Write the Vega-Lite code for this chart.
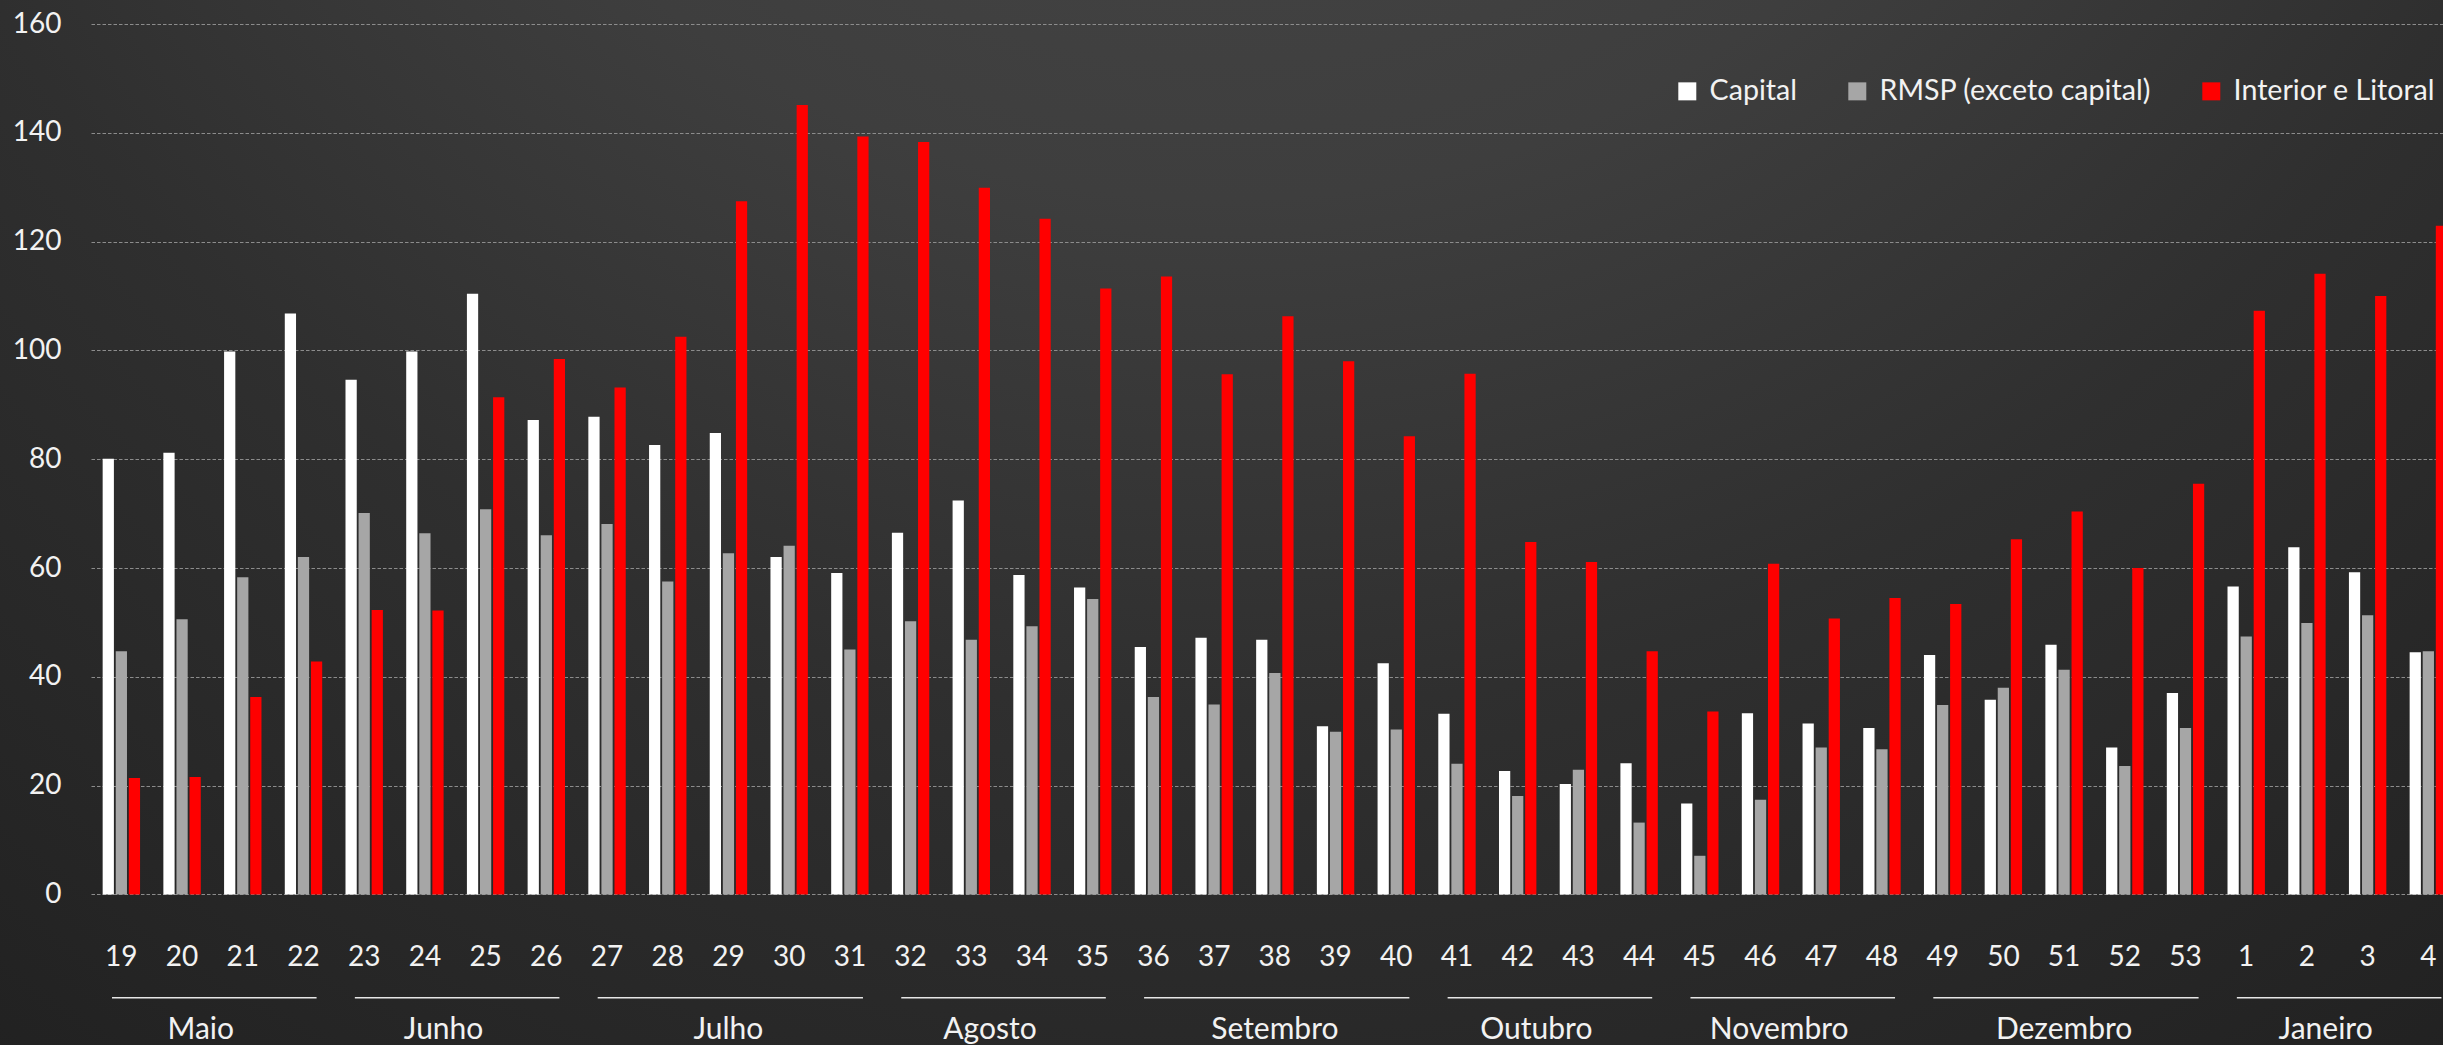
{
  "$schema": "https://vega.github.io/schema/vega-lite/v6.json",
  "width": 2443,
  "height": 1045,
  "autosize": {"type": "none"},
  "padding": 0,
  "background": "#262626",
  "view": {
    "stroke": null,
    "fill": {
      "gradient": "radial",
      "x1": 0.5, "y1": 0, "r1": 0,
      "x2": 0.5, "y2": 0, "r2": 1.05,
      "stops": [
        {"offset": 0, "color": "#4b4b4b"},
        {"offset": 0.35, "color": "#3e3e3e"},
        {"offset": 0.55, "color": "#2f2f2f"},
        {"offset": 0.8, "color": "#232323"},
        {"offset": 1, "color": "#1a1a1a"}
      ]
    }
  },
  "config": {
    "font": "Lato",
    "text": {"font": "Lato"}
  },
  "datasets": {
    "semanas": [
      {"semana": "19", "Capital": 80.1, "RMSP (exceto capital)": 44.7, "Interior e Litoral": 21.4},
      {"semana": "20", "Capital": 81.2, "RMSP (exceto capital)": 50.6, "Interior e Litoral": 21.6},
      {"semana": "21", "Capital": 99.8, "RMSP (exceto capital)": 58.3, "Interior e Litoral": 36.3},
      {"semana": "22", "Capital": 106.8, "RMSP (exceto capital)": 62.0, "Interior e Litoral": 42.8},
      {"semana": "23", "Capital": 94.6, "RMSP (exceto capital)": 70.1, "Interior e Litoral": 52.3},
      {"semana": "24", "Capital": 99.8, "RMSP (exceto capital)": 66.4, "Interior e Litoral": 52.2},
      {"semana": "25", "Capital": 110.4, "RMSP (exceto capital)": 70.8, "Interior e Litoral": 91.4},
      {"semana": "26", "Capital": 87.2, "RMSP (exceto capital)": 66.0, "Interior e Litoral": 98.4},
      {"semana": "27", "Capital": 87.8, "RMSP (exceto capital)": 68.1, "Interior e Litoral": 93.2},
      {"semana": "28", "Capital": 82.6, "RMSP (exceto capital)": 57.5, "Interior e Litoral": 102.5},
      {"semana": "29", "Capital": 84.8, "RMSP (exceto capital)": 62.7, "Interior e Litoral": 127.4},
      {"semana": "30", "Capital": 62.0, "RMSP (exceto capital)": 64.1, "Interior e Litoral": 145.1},
      {"semana": "31", "Capital": 59.1, "RMSP (exceto capital)": 45.0, "Interior e Litoral": 139.3},
      {"semana": "32", "Capital": 66.5, "RMSP (exceto capital)": 50.2, "Interior e Litoral": 138.3},
      {"semana": "33", "Capital": 72.4, "RMSP (exceto capital)": 46.8, "Interior e Litoral": 129.9},
      {"semana": "34", "Capital": 58.7, "RMSP (exceto capital)": 49.3, "Interior e Litoral": 124.2},
      {"semana": "35", "Capital": 56.4, "RMSP (exceto capital)": 54.3, "Interior e Litoral": 111.4},
      {"semana": "36", "Capital": 45.5, "RMSP (exceto capital)": 36.3, "Interior e Litoral": 113.6},
      {"semana": "37", "Capital": 47.2, "RMSP (exceto capital)": 34.9, "Interior e Litoral": 95.6},
      {"semana": "38", "Capital": 46.8, "RMSP (exceto capital)": 40.7, "Interior e Litoral": 106.3},
      {"semana": "39", "Capital": 30.9, "RMSP (exceto capital)": 29.9, "Interior e Litoral": 98.0},
      {"semana": "40", "Capital": 42.5, "RMSP (exceto capital)": 30.3, "Interior e Litoral": 84.2},
      {"semana": "41", "Capital": 33.2, "RMSP (exceto capital)": 24.0, "Interior e Litoral": 95.7},
      {"semana": "42", "Capital": 22.7, "RMSP (exceto capital)": 18.1, "Interior e Litoral": 64.8},
      {"semana": "43", "Capital": 20.3, "RMSP (exceto capital)": 22.9, "Interior e Litoral": 61.1},
      {"semana": "44", "Capital": 24.1, "RMSP (exceto capital)": 13.2, "Interior e Litoral": 44.7},
      {"semana": "45", "Capital": 16.7, "RMSP (exceto capital)": 7.1, "Interior e Litoral": 33.6},
      {"semana": "46", "Capital": 33.3, "RMSP (exceto capital)": 17.4, "Interior e Litoral": 60.8},
      {"semana": "47", "Capital": 31.4, "RMSP (exceto capital)": 27.0, "Interior e Litoral": 50.7},
      {"semana": "48", "Capital": 30.6, "RMSP (exceto capital)": 26.7, "Interior e Litoral": 54.5},
      {"semana": "49", "Capital": 44.0, "RMSP (exceto capital)": 34.8, "Interior e Litoral": 53.4},
      {"semana": "50", "Capital": 35.8, "RMSP (exceto capital)": 38.0, "Interior e Litoral": 65.3},
      {"semana": "51", "Capital": 45.9, "RMSP (exceto capital)": 41.3, "Interior e Litoral": 70.4},
      {"semana": "52", "Capital": 27.0, "RMSP (exceto capital)": 23.6, "Interior e Litoral": 60.0},
      {"semana": "53", "Capital": 37.0, "RMSP (exceto capital)": 30.6, "Interior e Litoral": 75.5},
      {"semana": "1", "Capital": 56.6, "RMSP (exceto capital)": 47.4, "Interior e Litoral": 107.3},
      {"semana": "2", "Capital": 63.8, "RMSP (exceto capital)": 49.9, "Interior e Litoral": 114.1},
      {"semana": "3", "Capital": 59.2, "RMSP (exceto capital)": 51.3, "Interior e Litoral": 110.0},
      {"semana": "4", "Capital": 44.5, "RMSP (exceto capital)": 44.7, "Interior e Litoral": 122.9}
    ],
    "meses": [
      {"mes": "Maio", "inicio": "19", "fim": "22", "meio": "20", "semanas": 4},
      {"mes": "Junho", "inicio": "23", "fim": "26", "meio": "24", "semanas": 4},
      {"mes": "Julho", "inicio": "27", "fim": "31", "meio": "29", "semanas": 5},
      {"mes": "Agosto", "inicio": "32", "fim": "35", "meio": "33", "semanas": 4},
      {"mes": "Setembro", "inicio": "36", "fim": "40", "meio": "38", "semanas": 5},
      {"mes": "Outubro", "inicio": "41", "fim": "44", "meio": "42", "semanas": 4},
      {"mes": "Novembro", "inicio": "45", "fim": "48", "meio": "46", "semanas": 4},
      {"mes": "Dezembro", "inicio": "49", "fim": "53", "meio": "51", "semanas": 5},
      {"mes": "Janeiro", "inicio": "1", "fim": "4", "meio": "2", "semanas": 4}
    ]
  },
  "layer": [
    {
      "data": {"name": "semanas"},
      "transform": [
        {"fold": ["Capital", "RMSP (exceto capital)", "Interior e Litoral"], "as": ["serie", "valor"]}
      ],
      "mark": {"type": "bar", "clip": true},
      "encoding": {
        "x": {
          "field": "semana",
          "type": "nominal",
          "title": null,
          "scale": {
            "domain": ["19", "20", "21", "22", "23", "24", "25", "26", "27", "28", "29", "30", "31", "32", "33", "34", "35", "36", "37", "38", "39", "40", "41", "42", "43", "44", "45", "46", "47", "48", "49", "50", "51", "52", "53", "1", "2", "3", "4"],
            "range": [91, 2458.7],
            "paddingInner": 0.384,
            "paddingOuter": 0.192
          },
          "axis": {
            "title": null,
            "domain": false,
            "ticks": false,
            "tickSize": 0,
            "grid": false,
            "labelAngle": 0,
            "labelFont": "Lato",
            "labelFontSize": 28,
            "labelColor": "#f2f2f2",
            "labelPadding": 70.6,
            "labelBaseline": "alphabetic",
            "offset": -150.6
          }
        },
        "xOffset": {
          "field": "serie",
          "type": "nominal",
          "scale": {
            "domain": ["Capital", "RMSP (exceto capital)", "Interior e Litoral"],
            "paddingInner": 0.14,
            "paddingOuter": 0
          }
        },
        "y": {
          "field": "valor",
          "type": "quantitative",
          "title": null,
          "scale": {"domain": [0, 160], "range": [894.4, 24], "nice": false},
          "axis": {
            "title": null,
            "values": [0, 20, 40, 60, 80, 100, 120, 140, 160],
            "domain": false,
            "ticks": false,
            "tickSize": 0,
            "offset": -91,
            "labelPadding": 30,
            "labelFlush": false,
            "labelFont": "Lato",
            "labelFontSize": 28,
            "labelColor": "#f2f2f2",
            "grid": true,
            "gridColor": "#8c8c8c",
            "gridDash": [3.5, 2],
            "gridWidth": 1.2
          }
        },
        "color": {
          "field": "serie",
          "type": "nominal",
          "scale": {
            "domain": ["Capital", "RMSP (exceto capital)", "Interior e Litoral"],
            "range": ["#ffffff", "#a6a6a6", "#ff0000"]
          },
          "legend": {
            "title": null,
            "orient": "none",
            "legendX": 1673,
            "legendY": 77,
            "direction": "horizontal",
            "columnPadding": 45,
            "labelOffset": 8,
            "labelLimit": 0,
            "symbolType": "square",
            "symbolSize": 324,
            "symbolStrokeWidth": 0,
            "labelFont": "Lato",
            "labelFontSize": 28.6,
            "labelColor": "#f2f2f2",
            "padding": 0
          }
        }
      }
    },
    {
      "data": {"name": "meses"},
      "mark": {"type": "rule", "color": "#e6e6e6", "strokeWidth": 1.5},
      "encoding": {
        "x": {"field": "inicio", "type": "nominal", "bandPosition": 0.25, "title": null},
        "x2": {"field": "fim", "bandPosition": 0.85},
        "y": {"datum": -19, "title": null}
      }
    },
    {
      "data": {"name": "meses"},
      "transform": [{"filter": "datum.semanas == 4"}],
      "mark": {"type": "text", "font": "Lato", "fontSize": 30, "color": "#f2f2f2", "baseline": "alphabetic", "align": "center"},
      "encoding": {
        "x": {"field": "meio", "type": "nominal", "bandPosition": 1, "title": null},
        "y": {"datum": -26.5, "title": null},
        "text": {"field": "mes"}
      }
    },
    {
      "data": {"name": "meses"},
      "transform": [{"filter": "datum.semanas == 5"}],
      "mark": {"type": "text", "font": "Lato", "fontSize": 30, "color": "#f2f2f2", "baseline": "alphabetic", "align": "center"},
      "encoding": {
        "x": {"field": "meio", "type": "nominal", "bandPosition": 0.5, "title": null},
        "y": {"datum": -26.5, "title": null},
        "text": {"field": "mes"}
      }
    }
  ]
}
